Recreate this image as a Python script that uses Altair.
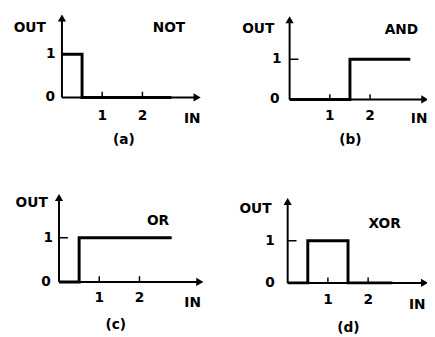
import altair as alt
import pandas as pd

# ---- data ----
GATES = ["NOT", "AND", "OR", "XOR"]
TAGS = ["(a)", "(b)", "(c)", "(d)"]
IN_VALUES = {
    "NOT": [0, 0.5, 2.72],
    "AND": [0, 1.5, 3.0],
    "OR": [0, 0.5, 2.8],
    "XOR": [0, 0.5, 1.5, 2.6],
}
OUT_VALUES = {
    "NOT": [1, 0, 0],
    "AND": [0, 1, 1],
    "OR": [0, 1, 1],
    "XOR": [0, 1, 0, 0],
}
X_TICKS = [1, 2]
Y_TICKS = [0, 1]

# ---- layout (domains, arrow ends, label anchors) ----
LAYOUT = {
    "NOT": dict(w=200, h=150, xd=[-1.341, 3.537], yd=[-1.409, 2.0], xa=3.36, ya=1.84,
                out=(-0.8, 1.61), name=(2.66, 1.61), ylab=(-0.28, -0.29), tl=-0.43,
                inl=(3.24, -0.5), tag=(1.54, -0.98)),
    "AND": dict(w=205, h=150, xd=[-1.585, 3.415], yd=[-1.463, 2.195], xa=3.36, ya=1.98,
                out=(-0.78, 1.76), name=(2.78, 1.73), ylab=(-0.32, -0.37), tl=-0.41,
                inl=(3.22, -0.49), tag=(1.51, -1.02)),
    "OR": dict(w=200, h=175, xd=[-1.268, 3.61], yd=[-1.178, 2.711], xa=3.5, ya=1.91,
               out=(-0.68, 1.78), name=(2.46, 1.38), ylab=(-0.27, -0.32), tl=-0.36,
               inl=(3.32, -0.47), tag=(1.41, -0.98)),
    "XOR": dict(w=205, h=175, xd=[-1.537, 3.463], yd=[-1.209, 2.86], xa=3.4, ya=1.93,
                out=(-0.8, 1.74), name=(2.41, 1.4), ylab=(-0.44, -0.44), tl=-0.4,
                inl=(3.22, -0.53), tag=(1.51, -1.07)),
}

FONT = "DejaVu Sans"


def panel(gate, tag):
    L = LAYOUT[gate]
    xs = alt.Scale(domain=L["xd"], nice=False, zero=False)
    ys = alt.Scale(domain=L["yd"], nice=False, zero=False)

    def X(f):
        return alt.X(f, type="quantitative", scale=xs, axis=None)

    def Y(f):
        return alt.Y(f, type="quantitative", scale=ys, axis=None)

    axes_df = pd.DataFrame({"x": [0, 0], "y": [0, 0], "x2": [L["xa"], 0], "y2": [0, L["ya"]]})
    axes = alt.Chart(axes_df).mark_rule(color="black", strokeWidth=2, clip=True).encode(
        x=X("x"), y=Y("y"), x2="x2", y2="y2")

    arrows_df = pd.DataFrame({"x": [L["xa"], 0], "y": [0, L["ya"]],
                              "s": ["triangle-right", "triangle-up"]})
    arrows = alt.Chart(arrows_df).mark_point(filled=True, size=70, color="black",
                                             opacity=1, clip=True).encode(
        x=X("x"), y=Y("y"), shape=alt.Shape("s:N", scale=None))

    ticks_df = pd.DataFrame({
        "x": X_TICKS + [0], "x2": X_TICKS + [0.22],
        "y": [0] * len(X_TICKS) + [1], "y2": [0.13] * len(X_TICKS) + [1],
    })
    ticks = alt.Chart(ticks_df).mark_rule(color="black", strokeWidth=1.5, clip=True).encode(
        x=X("x"), y=Y("y"), x2="x2", y2="y2")

    line_df = pd.DataFrame({"x": IN_VALUES[gate], "y": OUT_VALUES[gate]})
    line = alt.Chart(line_df).mark_line(color="black", strokeWidth=3,
                                        interpolate="step-after", clip=True).encode(
        x=X("x"), y=Y("y"))

    word_labels = [(L["out"][0], L["out"][1], "OUT"), (L["name"][0], L["name"][1], gate),
                   (L["inl"][0], L["inl"][1], "IN"), (L["tag"][0], L["tag"][1], tag)]
    num_labels = ([(L["ylab"][0] if v == 1 else L["ylab"][1], v, str(v)) for v in Y_TICKS]
                  + [(v, L["tl"], str(v)) for v in X_TICKS])
    words = alt.Chart(pd.DataFrame(word_labels, columns=["x", "y", "t"])).mark_text(
        font=FONT, fontSize=14, fontWeight="bold", color="black", clip=True).encode(
        x=X("x"), y=Y("y"), text="t:N")
    nums = alt.Chart(pd.DataFrame(num_labels, columns=["x", "y", "t"])).mark_text(
        font=FONT, fontSize=14, fontWeight="bold", color="black", clip=True).encode(
        x=X("x"), y=Y("y"), text="t:N")

    return alt.layer(axes, ticks, line, arrows, words, nums).properties(width=L["w"], height=L["h"])


row1 = alt.hconcat(panel("NOT", "(a)"), panel("AND", "(b)"), spacing=22)
row2 = alt.hconcat(panel("OR", "(c)"), panel("XOR", "(d)"), spacing=22)
chart = alt.vconcat(row1, row2, spacing=4).properties(padding=0).configure_view(stroke=None)

chart.save("out.html", embed_options={"renderer": "svg", "actions": False})
